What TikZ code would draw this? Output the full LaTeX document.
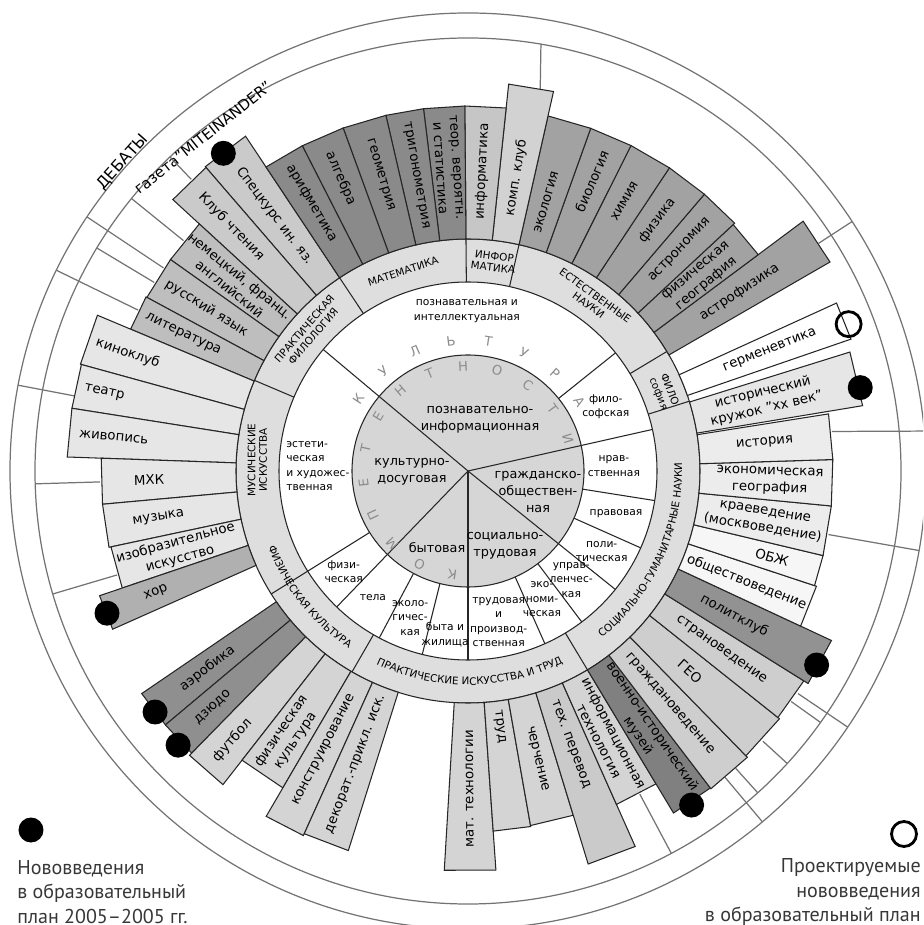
\documentclass[tikz,border=0pt]{standalone}
\usepackage{fontspec}
\setmainfont{DejaVu Sans}
\newfontfamily\legendfont{PT Sans}
\usetikzlibrary{decorations.text}

\newcommand{\bandfont}{\fontsize{5.9}{6.6}\selectfont}

\tikzset{
  barline/.style={draw=black!85, line width=0.6pt},
  ringline/.style={draw=black!85, line width=0.6pt},
  outerline/.style={draw=black!55, line width=0.7pt},
  barlabel/.style={font=\fontsize{7.6}{9.6}\selectfont, align=center, inner sep=0pt},
  bandlabel/.style={font=\bandfont, align=center, inner sep=0pt},
  ringlabel/.style={font=\fontsize{6.1}{8.2}\selectfont, align=center, inner sep=0pt},
  pielabel/.style={font=\fontsize{7.3}{9.4}\selectfont, align=center, inner sep=0pt},
  ringletter/.style={font=\fontsize{7.5}{8}\selectfont, text=letter_color, inner sep=0pt},
  newdot/.style={circle, fill=black, minimum size=0.5cm, inner sep=0pt},
  plandot/.style={circle, draw=black, line width=1.6pt, minimum size=0.5cm, inner sep=0pt},
  legendtext/.style={font=\legendfont\fontsize{11.4}{13.8}\selectfont, text=legend_color, inner sep=0pt}
}

% subject bar: name, start angle, end angle, outer radius, fill, label radius, label
\newcommand{\subjbar}[7]{%
  \draw[barline, fill=#5] (#2:232) arc[start angle=#2, end angle=#3, radius=232] -- (#3:#4) -- (#2:#4) -- cycle;
  \pgfmathsetmacro{\midang}{(#2+#3)/2}
  \pgfmathsetmacro{\txtrot}{ifthenelse(and(\midang>-89,\midang<90),\midang,\midang+180)}
  \node[barlabel, rotate=\txtrot] (#1) at (\midang:#6) {#7};
}

\begin{document}
\begin{tikzpicture}[x=0.02cm, y=0.02cm]
\definecolor{band_color}{RGB}{222,222,222}
\definecolor{pie_color}{RGB}{214,214,214}
\definecolor{math_color}{RGB}{138,138,138}
\definecolor{science_color}{RGB}{162,162,162}
\definecolor{lang_color}{RGB}{190,190,190}
\definecolor{club_color}{RGB}{202,202,202}
\definecolor{info_color}{RGB}{198,198,198}
\definecolor{comp_color}{RGB}{210,210,210}
\definecolor{art_color}{RGB}{230,230,230}
\definecolor{choir_color}{RGB}{176,176,176}
\definecolor{sport_color}{RGB}{143,143,143}
\definecolor{craft_color}{RGB}{212,212,212}
\definecolor{social_light_color}{RGB}{236,236,236}
\definecolor{social_white_color}{RGB}{246,246,246}
\definecolor{social_mid_color}{RGB}{206,206,206}
\definecolor{polit_color}{RGB}{146,146,146}
\definecolor{museum_color}{RGB}{128,128,128}
\definecolor{letter_color}{RGB}{140,140,140}
\definecolor{legend_color}{RGB}{55,55,55}

\useasboundingbox (-468,-454) rectangle (455,471);
\clip (-468,-454) rectangle (455,471);

% outer rings
\draw[outerline] (0,0) circle[radius=433];
\draw[outerline] (0,0) circle[radius=458];

\node[font=\fontsize{9}{10}\selectfont, rotate=48.2, inner sep=0pt] (debate) at (138.2:463) {ДЕБАТЫ};
\node[font=\fontsize{8.5}{10}\selectfont, rotate=38.5, inner sep=0pt] (newspaper) at (128.5:426) {газета"MITEINANDER"};

% empty boxes beyond the bars
\draw[outerline] (133.5:402) -- (133.5:433);
\draw[outerline] (141:366) -- (141:433);
\draw[outerline] (146.3:366) -- (146.3:458);
\draw[outerline] (149:366) -- (149:433);
\draw[outerline] (154:367) -- (154:458);
\draw[outerline] (169.2:401) -- (169.2:458);
\draw[outerline] (181.7:368) -- (181.7:433);
\draw[outerline] (-163.5:366) -- (-163.5:433);
\draw[outerline] (-62:366) -- (-62:433);
\draw[outerline] (-50:400) -- (-50:458);
\draw[outerline] (-48:400) -- (-48:433);
\draw[outerline] (-42.5:400) -- (-42.5:433);
\draw[outerline] (-35.5:397) -- (-35.5:433);
\draw[outerline] (-34:398) -- (-34:458);
\draw[outerline] (-10:366) -- (-10:458);
\draw[outerline] (6.2:366) -- (5:458);
\draw[outerline] (33:418) -- (33:458);
\draw[outerline] (79.3:389) -- (80.3:433);

% rings
\fill[band_color] (0,0) circle[radius=232];
\fill[white] (0,0) circle[radius=189];
\fill[pie_color] (0,0) circle[radius=116];
\draw[ringline] (0,0) circle[radius=116];
\draw[ringline] (0,0) circle[radius=189];
\draw[ringline] (0,0) circle[radius=232];

% pie and ring dividers
\draw[ringline] (0,0) -- (140:189);
\draw[ringline] (0,0) -- (12.7:189);
\draw[ringline] (0,0) -- (-38.8:189);
\draw[ringline] (0,0) -- (-90:189);
\draw[ringline] (0,0) -- (-134:189);
\draw[ringline] (38.7:116) -- (38.7:189);
\draw[ringline] (-9:116) -- (-9:189);
\draw[ringline] (-24:116) -- (-24:189);
\draw[ringline] (-53:116) -- (-53:189);
\draw[ringline] (-66:116) -- (-66:189);
\draw[ringline] (-104:116) -- (-104:189);
\draw[ringline] (-118:116) -- (-118:189);
\draw[ringline] (-148:116) -- (-148:232);
\draw[ringline] (90.5:189) -- (90.5:232);
\draw[ringline] (77.3:189) -- (77.3:232);
\draw[ringline] (31:189) -- (31:232);
\draw[ringline] (17.5:189) -- (17.5:232);
\draw[ringline] (-59:189) -- (-59:232);
\draw[ringline] (-120:189) -- (-120:232);
\draw[ringline] (157:189) -- (157:232);
\draw[ringline] (123.6:189) -- (123.6:232);

% practical philology
\subjbar{spec_bar}{123.6}{130.8}{402}{club_color}{320}{Спецкурс ин. яз.}
\subjbar{club_bar}{130.8}{137.4}{401}{club_color}{340}{Клуб чтения}
\subjbar{foreign_bar}{137.4}{144.6}{365}{lang_color}{300}{немецкий, франц.\\английский}
\subjbar{russian_bar}{144.6}{151.6}{365}{lang_color}{308}{русский язык}
\subjbar{lit_bar}{151.6}{157.2}{366}{lang_color}{316}{литература}
% arts
\subjbar{cinema_bar}{157.2}{164.6}{402}{art_color}{360}{киноклуб}
\subjbar{theatre_bar}{164.6}{171}{401}{art_color}{372}{театр}
\subjbar{paint_bar}{171}{178}{401}{art_color}{356}{живопись}
\subjbar{mhk_bar}{178}{185.2}{367}{art_color}{319}{МХК}
\subjbar{music_bar}{185.2}{192}{367}{art_color}{313}{музыка}
\subjbar{fineart_bar}{192}{198.7}{365}{art_color}{301}{изобразительное\\искусство}
\subjbar{choir_bar}{198.7}{204}{389}{choir_color}{335}{хор}
% physical culture
\subjbar{aerobic_bar}{-145.7}{-140}{395}{sport_color}{327}{аэробика}
\subjbar{judo_bar}{-140}{-134.4}{395}{sport_color}{348}{дзюдо}
\subjbar{football_bar}{-134.4}{-128}{398}{craft_color}{358}{футбол}
\subjbar{physed_bar}{-128}{-120.3}{367}{craft_color}{320}{физическая\\культура}
% practical arts
\subjbar{design_bar}{-120.3}{-114.3}{400}{craft_color}{314}{конструирование}
\subjbar{decor_bar}{-114.3}{-107.5}{398}{craft_color}{314}{декорат.-прикл. иск.}
\subjbar{mattech_bar}{-93.4}{-86}{400}{craft_color}{318}{мат. технологии}
\subjbar{labour_bar}{-86}{-80}{361}{craft_color}{258}{труд}
\subjbar{drawing_bar}{-80}{-73}{360}{craft_color}{296}{черчение}
\subjbar{transl_bar}{-73}{-66}{411}{club_color}{292}{тех. перевод}
\subjbar{infotech_bar}{-66}{-59}{365}{craft_color}{300}{информационная\\технология}
% social sciences
\subjbar{museum_bar}{-59}{-52.6}{399}{museum_color}{315}{военно-исторический\\музей}
\subjbar{civics_bar}{-52.6}{-45.7}{400}{social_mid_color}{308}{граждановедение}
\subjbar{geo_bar}{-45.7}{-38.5}{398}{social_mid_color}{299}{ГЕО}
\subjbar{country_bar}{-38.5}{-32}{396}{social_mid_color}{310}{страноведение}
\subjbar{politclub_bar}{-32}{-25}{401}{polit_color}{303}{политклуб}
\subjbar{society_bar}{-25}{-18.3}{367}{social_white_color}{300}{обществоведение}
\subjbar{obzh_bar}{-18.3}{-13.4}{365}{social_white_color}{316}{ОБЖ}
\subjbar{local_bar}{-13.4}{-5.5}{365}{social_light_color}{300}{краеведение\\(москвоведение)}
\subjbar{econgeo_bar}{-5.5}{1.8}{365}{social_light_color}{302}{экономическая\\география}
\subjbar{history_bar}{1.8}{9}{365}{social_light_color}{298}{история}
\subjbar{histclub_bar}{9.4}{17.3}{400}{art_color}{305}{исторический\\кружок "хх век"}
% philosophy
\subjbar{herm_bar}{19}{24.5}{405}{white}{325}{герменевтика}
% natural sciences
\subjbar{astrophys_bar}{30}{36.7}{418}{science_color}{325}{астрофизика}
\subjbar{physgeo_bar}{36.7}{42.9}{362}{science_color}{303}{физическая\\география}
\subjbar{astro_bar}{42.9}{49.5}{364}{science_color}{306}{астрономия}
\subjbar{physics_bar}{49.5}{56.4}{364}{science_color}{314}{физика}
\subjbar{chem_bar}{56.4}{63.4}{364}{science_color}{312}{химия}
\subjbar{bio_bar}{63.4}{70.3}{364}{science_color}{315}{биология}
\subjbar{ecol_bar}{70.3}{77.3}{364}{science_color}{280}{экология}
% informatics
\subjbar{compclub_bar}{77.3}{84}{389}{comp_color}{297}{комп. клуб}
\subjbar{inform_bar}{84}{90.5}{365}{info_color}{300}{информатика}
% mathematics
\subjbar{prob_bar}{90.5}{97}{365}{math_color}{304}{теор. вероятн.\\и статистика}
\subjbar{trig_bar}{97}{103}{365}{math_color}{300}{тригонометрия}
\subjbar{geom_bar}{103}{110}{365}{math_color}{309}{геометрия}
\subjbar{alg_bar}{110}{117}{365}{math_color}{319}{алгебра}
\subjbar{arith_bar}{117}{123.6}{365}{math_color}{310}{арифметика}

% markers
\node[newdot] (spec_dot) at (127.6:401) {};
\node[newdot] (choir_dot) at (201.5:388) {};
\node[newdot] (aerobic_dot) at (-142.4:395) {};
\node[newdot] (judo_dot) at (-136.6:399) {};
\node[newdot] (politclub_dot) at (-29.1:399) {};
\node[newdot] (museum_dot) at (-56.2:402) {};
\node[newdot] (histclub_dot) at (12:401) {};
\node[plandot] (herm_dot) at (21.1:408) {};

% area band
\node[bandlabel, rotate=18] (math_band) at (108:210) {МАТЕМАТИКА};
\node[bandlabel, rotate=-7] (info_band) at (83:211) {ИНФОР\\МАТИКА};
\node[bandlabel, rotate=-36] (science_band) at (54:211) {ЕСТЕСТВЕННЫЕ\\НАУКИ};
\node[bandlabel, rotate=-68] (philo_band) at (22:211) {ФИЛО\\софия};
\node[bandlabel, rotate=49] (philology_band) at (139:211) {ПРАКТИЧЕСКАЯ\\ФИЛОЛОГИЯ};
\node[bandlabel, rotate=90] (arts_band) at (177:211) {МУСИЧЕСКИЕ\\ИСКУССТВА};
\path[decorate, decoration={text along path, text align=center, text={|\bandfont|СОЦИАЛЬНО-ГУМАНИТАРНЫЕ НАУКИ}}] (-60:214) arc[start angle=-60, end angle=11, radius=214];
\path[decorate, decoration={text along path, text align=center, text={|\bandfont|ПРАКТИЧЕСКИЕ ИСКУССТВА И ТРУД}}] (-125:214) arc[start angle=-125, end angle=-54, radius=214];
\path[decorate, decoration={text along path, text align=center, text={|\bandfont|ФИЗИЧЕСКАЯ КУЛЬТУРА}}] (-165:214) arc[start angle=-165, end angle=-118, radius=214];

% competence ring
\node[ringlabel] (cog_ring) at (90.4:160) {познавательная и\\интеллектуальная};
\node[ringlabel] (phil_ring) at (25:152) {фило-\\софская};
\node[ringlabel] (moral_ring) at (2:146) {нрав-\\ственная};
\node[ringlabel] (law_ring) at (-16:154) {правовая};
\node[ringlabel] (polit_ring) at (-31:156) {поли-\\тическая};
\node[ringlabel] (manage_ring) at (-46.5:150) {управ-\\ленчес-\\кая};
\node[ringlabel] (econ_ring) at (-60:148) {эко-\\номи-\\ческая};
\node[ringlabel] (work_ring) at (-78.5:154) {трудовая\\и\\производ-\\ственная};
\node[ringlabel] (home_ring) at (-98:165) {быта и\\жилища};
\node[ringlabel] (ecol_ring) at (-111.5:158) {эколо-\\гичес-\\кая};
\node[ringlabel] (body_ring) at (-127:158) {тела};
\node[ringlabel] (phys_ring) at (-141:160) {физи-\\ческая};
\node[ringlabel, anchor=west, align=left] (art_ring) at (-182,5) {эстети-\\ческая\\и художес-\\твенная};

% pie
\node[pielabel] (cog_pie) at (12,51) {познавательно-\\информационная};
\node[pielabel] (leisure_pie) at (-56,-1) {культурно-\\досуговая};
\node[pielabel] (civic_pie) at (70,-21) {гражданско-\\обществен-\\ная};
\node[pielabel] (social_pie) at (37,-75) {социально-\\трудовая};
\node[pielabel] (home_pie) at (-31,-77) {бытовая};

% letters
\node[ringletter, rotate=-188.6] (k1) at (-98.6:105) {К};
\node[ringletter, rotate=-207.4] (k2) at (-117.4:105) {О};
\node[ringletter, rotate=-226.1] (k3) at (-136.1:105) {М};
\node[ringletter, rotate=-244.9] (k4) at (-154.9:105) {П};
\node[ringletter, rotate=-263.6] (k5) at (-173.6:105) {Е};
\node[ringletter, rotate=77.7] (k6) at (167.7:105) {Т};
\node[ringletter, rotate=58.9] (k7) at (148.9:105) {Е};
\node[ringletter, rotate=40.2] (k8) at (130.2:105) {Н};
\node[ringletter, rotate=21.4] (k9) at (111.4:105) {Т};
\node[ringletter, rotate=2.7] (k10) at (92.7:105) {Н};
\node[ringletter, rotate=-16.1] (k11) at (73.9:105) {О};
\node[ringletter, rotate=-34.8] (k12) at (55.2:105) {С};
\node[ringletter, rotate=-53.6] (k13) at (36.4:105) {Т};
\node[ringletter, rotate=-72.3] (k14) at (17.7:105) {И};
\node[ringletter, rotate=56.7] (c1) at (146.7:131) {К};
\node[ringletter, rotate=40.3] (c2) at (130.3:131) {У};
\node[ringletter, rotate=23.9] (c3) at (113.9:131) {Л};
\node[ringletter, rotate=7.5] (c4) at (97.5:131) {Ь};
\node[ringletter, rotate=-8.9] (c5) at (81.1:131) {Т};
\node[ringletter, rotate=-25.3] (c6) at (64.7:131) {У};
\node[ringletter, rotate=-41.7] (c7) at (48.3:131) {Р};
\node[ringletter, rotate=-58.1] (c8) at (31.9:131) {А};

% legend
\node[newdot] (legend_new) at (-437,-359) {};
\node[plandot] (legend_plan) at (436,-363) {};
\node[legendtext, anchor=west, align=left] (legend_new_text) at (-451,-421) {Нововведения\\в образовательный\\план 2005–2005 гг.};
\node[legendtext, anchor=east, align=right] (legend_plan_text) at (453,-421) {Проектируемые\\нововведения\\в образовательный план};

\end{tikzpicture}
\end{document}
